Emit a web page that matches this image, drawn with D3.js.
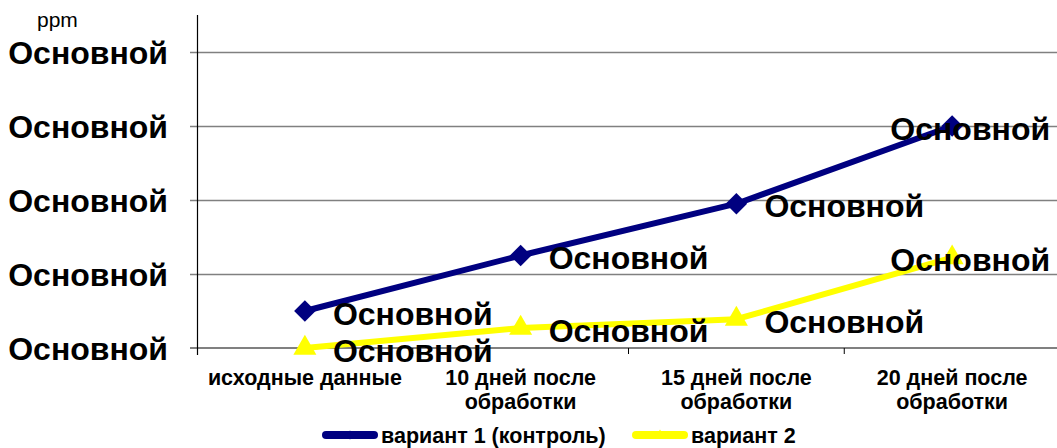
<!DOCTYPE html>
<html>
<head>
<meta charset="utf-8">
<script src="https://cdn.jsdelivr.net/npm/d3@7"></script>
<style>
  html, body { margin: 0; padding: 0; background: #fff; }
  svg { display: block; font-family: "Liberation Sans", Arial, sans-serif; }
</style>
</head>
<body>
<svg id="chart" width="1057" height="448"></svg>
<script>
// Categories (time points after treatment)
const categories = [
  ["исходные данные"],
  ["10 дней после", "обработки"],
  ["15 дней после", "обработки"],
  ["20 дней после", "обработки"]
];
const seriesNames = ["вариант 1 (контроль)", "вариант 2"];
const variant1 = [0.5, 1.25, 1.95, 3.0];
const variant2 = [0.0, 0.27, 0.39, 1.22];
const yTicks = [0, 1, 2, 3, 4];
const yTickLabel = "Основной";
const dataLabel = "Основной";
const unitLabel = "ppm";

const svg = d3.select("#chart");
const plotLeft = 197, plotRight = 1060, plotTop = 15, plotBottom = 348;

const x = d3.scaleBand().domain(d3.range(categories.length)).range([plotLeft, plotRight]);
const y = d3.scaleLinear().domain([0, 4.5]).range([plotBottom, plotTop]);

// gridlines
svg.append("g")
  .selectAll("line").data(yTicks.filter(d => d > 0)).join("line")
  .attr("x1", plotLeft - 7).attr("x2", plotRight)
  .attr("y1", d => Math.round(y(d)) + 0.5).attr("y2", d => Math.round(y(d)) + 0.5)
  .attr("stroke", "#808080").attr("stroke-width", 1.5);

// x axis
const xAxis = svg.append("g").attr("transform", `translate(0,${plotBottom})`);
xAxis.append("line").attr("x1", plotLeft - 7).attr("x2", plotRight)
  .attr("stroke", "#808080").attr("stroke-width", 2);
xAxis.selectAll("line.tick").data(d3.range(1, categories.length)).join("line")
  .attr("class", "tick")
  .attr("x1", d => x(d)).attr("x2", d => x(d))
  .attr("y1", 0).attr("y2", 6).attr("stroke", "#000").attr("stroke-width", 1);

// y axis
svg.append("line").attr("x1", plotLeft + 0.5).attr("x2", plotLeft + 0.5)
  .attr("y1", plotTop).attr("y2", plotBottom + 7).attr("stroke", "#000").attr("stroke-width", 1.2);

// y tick labels
svg.append("g").selectAll("text").data(yTicks).join("text")
  .attr("x", 168).attr("y", d => y(d))
  .attr("dy", "0.36em")
  .attr("text-anchor", "end")
  .attr("font-size", 32).attr("font-weight", "bold")
  .text(yTickLabel);

svg.append("text").attr("x", 37).attr("y", 27)
  .attr("font-size", 21).text(unitLabel);

// category labels
const catG = svg.append("g").selectAll("text").data(categories).join("text")
  .attr("text-anchor", "middle")
  .attr("font-size", 21.5).attr("font-weight", "bold");
catG.selectAll("tspan").data((d, i) => d.map(t => ({ t, i }))).join("tspan")
  .attr("x", d => x(d.i) + x.bandwidth() / 2)
  .attr("y", (d, j) => 384.5 + j * 24)
  .text(d => d.t);

const cx = i => x(i) + x.bandwidth() / 2;
const line = d3.line().x((d, i) => cx(i)).y(d => y(d));

const series = [
  { values: variant1, color: "#000080", symbol: d3.symbolSquare, rotate: 45, size: 230, name: seriesNames[0] },
  { values: variant2, color: "#FFFF00", symbol: d3.symbolTriangle, rotate: 0, size: 230, name: seriesNames[1] }
];

series.forEach(s => {
  svg.append("path").datum(s.values)
    .attr("d", line).attr("fill", "none")
    .attr("stroke", s.color).attr("stroke-width", 6).attr("stroke-linejoin", "round");
  svg.append("g").selectAll("path").data(s.values).join("path")
    .attr("transform", (d, i) => `translate(${cx(i)},${y(d)}) rotate(${s.rotate})`)
    .attr("d", d3.symbol().type(s.symbol).size(s.size))
    .attr("fill", s.color);
});

// data labels
series.forEach(s => {
  svg.append("g").selectAll("text").data(s.values).join("text")
    .attr("x", (d, i) => i === s.values.length - 1 ? cx(i) + 98 : cx(i) + 28)
    .attr("text-anchor", (d, i) => i === s.values.length - 1 ? "end" : "start")
    .attr("y", d => y(d) + 2)
    .attr("dy", "0.36em")
    .attr("font-size", 32).attr("font-weight", "bold")
    .text(dataLabel);
});

// legend
const legend = svg.append("g").attr("transform", "translate(322,435)");
const legendItems = [
  { s: series[0], dx: 0 },
  { s: series[1], dx: 310 }
];
legendItems.forEach(({ s, dx }) => {
  const g = legend.append("g").attr("transform", `translate(${dx},0)`);
  g.append("line").attr("x1", 4).attr("x2", 52).attr("stroke", s.color)
    .attr("stroke-width", 8).attr("stroke-linecap", "round");
  g.append("path").attr("transform", `translate(28,0) rotate(${s.rotate})`)
    .attr("d", d3.symbol().type(s.symbol).size(40)).attr("fill", s.color);
  g.append("text").attr("x", 59).attr("dy", "0.36em")
    .attr("font-size", 21.5).attr("font-weight", "bold").text(s.name);
});
</script>
</body>
</html>
